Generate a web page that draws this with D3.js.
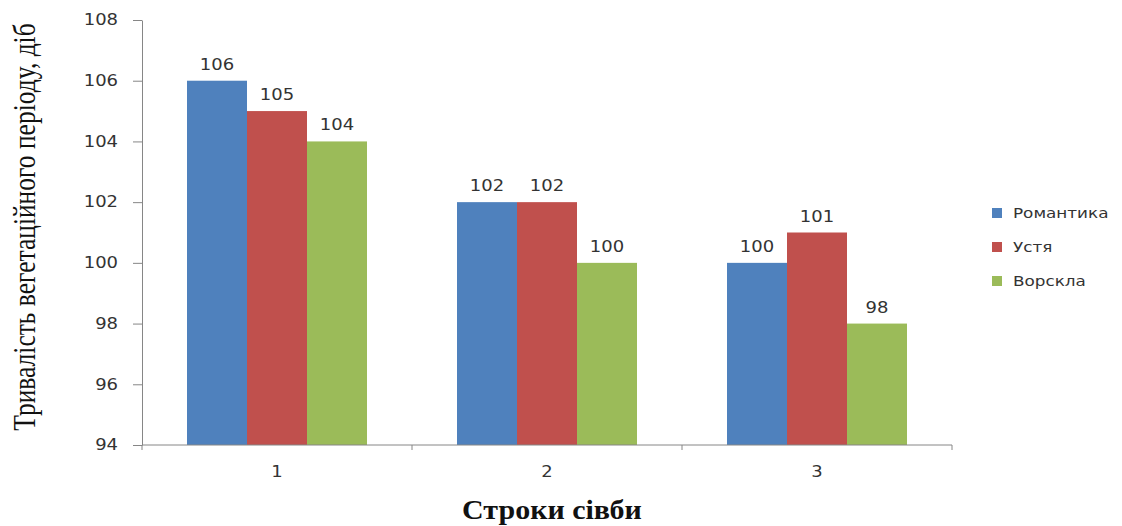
<!DOCTYPE html>
<html>
<head>
<meta charset="utf-8">
<script src="https://d3js.org/d3.v7.min.js"></script>
<style>
body { margin: 0; background: #fff; }
text { font-family: 'DejaVu Sans', Verdana, sans-serif; fill: #333; }
.serif { font-family: 'Liberation Serif', 'Times New Roman', serif; fill: #111; }
</style>
</head>
<body>
<div id="chart"></div>
<script>
// data
var categories = ["1", "2", "3"];
var series = ["Романтика", "Устя", "Ворскла"];
var romantyka = [106, 102, 100];
var ustia = [105, 102, 101];
var vorskla = [104, 100, 98];
var yTicks = [94, 96, 98, 100, 102, 104, 106, 108];
var colors = ["#4F81BD", "#C0504D", "#9BBB59"];

var values = [romantyka, ustia, vorskla];
var sx = 1.2; // the picture's text is a bit wide

var svg = d3.select("#chart").append("svg")
  .attr("width", 1122).attr("height", 526);

var x0 = d3.scaleBand().domain(categories).range([142, 952])
  .paddingInner(1/3).paddingOuter(1/6);
var x1 = d3.scaleBand().domain(series).range([0, x0.bandwidth()]);
var y = d3.scaleLinear().domain([94, 108]).range([445, 20]);

// bars
var groups = svg.selectAll(".grp")
  .data(categories)
  .enter().append("g")
  .attr("class", "grp")
  .attr("transform", function(d) { return "translate(" + x0(d) + ",0)"; });

groups.selectAll("rect")
  .data(function(d, i) { return series.map(function(s, j) { return {s: s, v: values[j][i], c: colors[j]}; }); })
  .enter().append("rect")
  .attr("x", function(d) { return x1(d.s); })
  .attr("y", function(d) { return y(d.v); })
  .attr("width", x1.bandwidth())
  .attr("height", function(d) { return y(94) - y(d.v); })
  .style("fill", function(d) { return d.c; });

// value labels
groups.selectAll(".lbl")
  .data(function(d, i) { return series.map(function(s, j) { return {s: s, v: values[j][i]}; }); })
  .enter().append("text")
  .attr("class", "lbl")
  .attr("text-anchor", "middle")
  .attr("font-size", "15px")
  .attr("transform", function(d) {
    return "translate(" + (x1(d.s) + x1.bandwidth() / 2) + "," + (y(d.v) - 11) + ") scale(" + sx + ",1)";
  })
  .text(function(d) { return d.v; });

// y axis
var yAxis = svg.append("g")
  .attr("transform", "translate(142,0)")
  .call(d3.axisLeft(y).tickValues(yTicks).tickSize(9).tickSizeOuter(0).tickPadding(15));
yAxis.select(".domain").attr("stroke", "#868686");
yAxis.selectAll(".tick line").attr("stroke", "#868686");
yAxis.selectAll(".tick text")
  .attr("font-family", null).attr("font-size", "15px")
  .attr("x", -24 / sx).attr("transform", "scale(" + sx + ",1)");

// x axis line with boundary ticks
var xAxis = svg.append("g");
xAxis.append("line")
  .attr("x1", x0.range()[0]).attr("x2", x0.range()[1])
  .attr("y1", y(94)).attr("y2", y(94))
  .attr("stroke", "#868686");
d3.range(categories.length + 1).forEach(function(i) {
  var bx = x0.range()[0] + i * x0.step();
  xAxis.append("line")
    .attr("x1", bx).attr("x2", bx)
    .attr("y1", y(94)).attr("y2", y(94) + 5)
    .attr("stroke", "#868686");
});
xAxis.selectAll(".cat")
  .data(categories)
  .enter().append("text")
  .attr("class", "cat")
  .attr("text-anchor", "middle")
  .attr("font-size", "15px")
  .attr("transform", function(d) {
    return "translate(" + (x0(d) + x0.bandwidth() / 2) + ",477) scale(" + sx + ",1)";
  })
  .text(function(d) { return d; });

// axis titles
svg.append("text")
  .attr("class", "serif")
  .attr("text-anchor", "middle")
  .attr("font-size", "25.5px")
  .attr("transform", "translate(35,227) rotate(-90) scale(1,1.2)")
  .text("Тривалість вегетаційного періоду, діб");

svg.append("text")
  .attr("class", "serif")
  .attr("text-anchor", "middle")
  .attr("font-size", "24px")
  .attr("font-weight", "bold")
  .attr("transform", "translate(552,519) scale(1.25,1.15)")
  .text("Строки сівби");

// legend
var legend = svg.selectAll(".leg")
  .data(series)
  .enter().append("g")
  .attr("class", "leg")
  .attr("transform", function(d, i) { return "translate(992," + (213 + i * 34) + ")"; });
legend.append("rect")
  .attr("x", 0).attr("y", -5).attr("width", 10).attr("height", 10)
  .style("fill", function(d, i) { return colors[i]; });
legend.append("text")
  .attr("font-size", "14px")
  .attr("dy", "0.36em")
  .attr("transform", "translate(21,0) scale(" + sx + ",1)")
  .text(function(d) { return d; });
</script>
</body>
</html>
